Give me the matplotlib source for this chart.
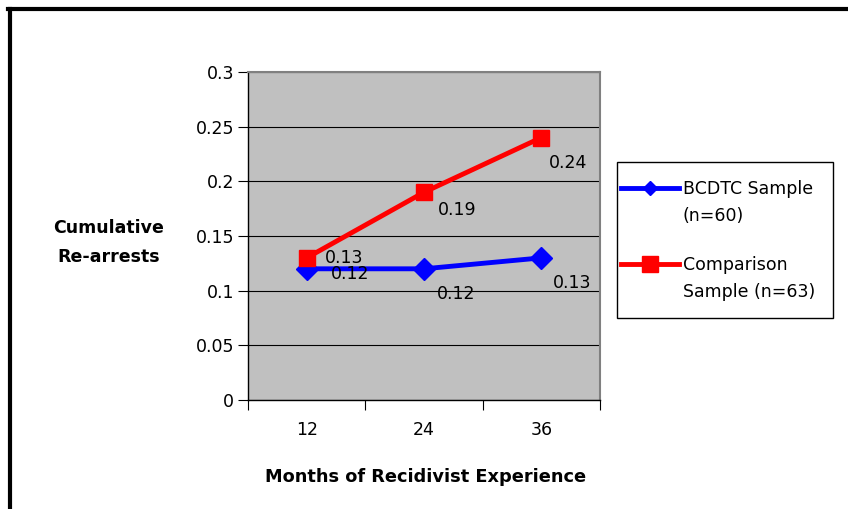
import matplotlib.pyplot as plt
from matplotlib.lines import Line2D
from matplotlib.patches import Rectangle

plt.rcParams['font.family'] = ['DejaVu Sans']

months = ['12', '24', '36']
bcdtc = [0.12, 0.12, 0.13]
comparison = [0.13, 0.19, 0.24]
bcdtc_label = ['BCDTC Sample', '(n=60)']
comparison_label = ['Comparison', 'Sample (n=63)']

BLUE = '#0000FF'
RED = '#FF0000'

# offsets (points) for the value labels, excel style nudging
bcdtc_offsets = [(31, -4), (23, -18), (22, -18)]
comparison_offsets = [(27, 0), (24, -13), (19, -18)]

W, H = 848, 509
fig = plt.figure(figsize=(W / 100, H / 100), dpi=100)


def fx(px):
    return px / W


def fy(py):
    return 1 - py / H


ax = fig.add_axes([fx(248), fy(400), 352 / W, 328 / H])
ax.set_facecolor('#C0C0C0')

x = list(range(len(months)))
ax.plot(x, bcdtc, color=BLUE, lw=3.5, marker='D', ms=11, zorder=3)
ax.plot(x, comparison, color=RED, lw=3.5, marker='s', ms=12, zorder=3)

for i, v in enumerate(bcdtc):
    ax.annotate(f'{v:g}', (i, v), xytext=bcdtc_offsets[i], textcoords='offset points',
                ha='center', va='center', fontsize=12.5, zorder=4)
for i, v in enumerate(comparison):
    ax.annotate(f'{v:g}', (i, v), xytext=comparison_offsets[i], textcoords='offset points',
                ha='center', va='center', fontsize=12.5, zorder=4)

ax.set_xlim(-0.5, len(months) - 0.5)
ax.set_ylim(0, 0.3)
ax.set_yticks([0, 0.05, 0.1, 0.15, 0.2, 0.25, 0.3])
ax.set_yticklabels(['0', '0.05', '0.1', '0.15', '0.2', '0.25', '0.3'], fontsize=12.5)
ax.yaxis.grid(True, color='black', lw=0.8)
ax.set_axisbelow(True)

# category labels centered, tick marks between categories
ax.set_xticks([i - 0.5 for i in range(len(months) + 1)])
ax.set_xticklabels([])
ax.set_xticks(x, minor=True)
ax.set_xticklabels(months, minor=True, fontsize=12.5)
ax.tick_params(axis='x', which='minor', length=0, pad=15)
ax.tick_params(axis='x', which='major', length=7, direction='out', color='black')
ax.tick_params(axis='y', length=7, direction='out', pad=3)

for s in ['top', 'right']:
    ax.spines[s].set_color('#808080')
    ax.spines[s].set_linewidth(1.5)
for s in ['left', 'bottom']:
    ax.spines[s].set_color('black')
    ax.spines[s].set_linewidth(1)

fig.text(fx(426), fy(477), 'Months of Recidivist Experience',
         ha='center', va='center', fontsize=12.8, fontweight='bold')
fig.text(fx(109), fy(242.5), 'Cumulative\nRe-arrests', ha='center', va='center',
         fontsize=12.5, fontweight='bold', linespacing=1.75)

# legend, drawn like the excel one (handle next to the first text line)
fig.add_artist(Rectangle((fx(617), fy(318)), 216 / W, 156 / H, transform=fig.transFigure,
                         facecolor='white', edgecolor='black', lw=1))
entries = [(bcdtc_label, BLUE, 'D', 7.5, 188), (comparison_label, RED, 's', 11, 264)]
for lines, col, mk, size, y0 in entries:
    fig.add_artist(Line2D([fx(621), fx(679)], [fy(y0), fy(y0)], color=col, lw=3.5,
                          transform=fig.transFigure))
    fig.add_artist(Line2D([fx(650)], [fy(y0)], color=col, marker=mk, ms=size, lw=0,
                          transform=fig.transFigure))
    for j, t in enumerate(lines):
        fig.text(fx(683), fy(y0 + 1 + 27 * j), t, ha='left', va='center', fontsize=12.5)

# outer chart border (only left and top show in the crop)
fig.add_artist(Line2D([fx(10), fx(10)], [0, fy(9)], color='black', lw=3,
                      transform=fig.transFigure))
fig.add_artist(Line2D([fx(8), 1], [fy(9), fy(9)], color='black', lw=3,
                      transform=fig.transFigure))

fig.savefig('out.png', dpi=100)
